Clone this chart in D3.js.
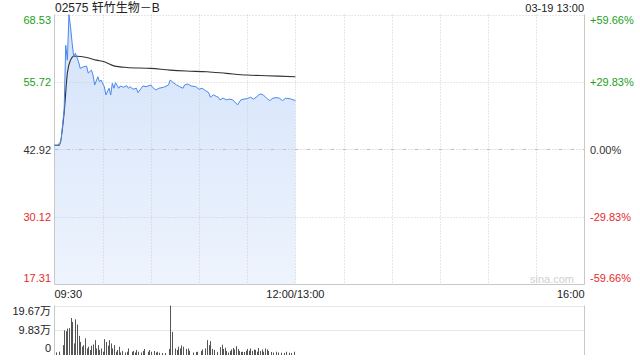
<!DOCTYPE html>
<html>
<head>
<meta charset="utf-8">
<script src="https://cdn.jsdelivr.net/npm/d3@7"></script>
<style>
  html, body { margin: 0; padding: 0; background: #fff; }
  svg { display: block; font-family: Arial, "Liberation Sans", "Noto Sans CJK SC", sans-serif; }
</style>
</head>
<body>
<div id="chart"></div>
<script>
// Chart data (minutes after 09:30)
const title = "02575 轩竹生物－B";
const stamp = "03-19 13:00";
const prevClose = 42.92;
const priceTicks = [68.53, 55.72, 42.92, 30.12, 17.31];
const pctTicks = ["+59.66%", "+29.83%", "0.00%", "-29.83%", "-59.66%"];
const volTicks = [19.67, 9.83, 0];
const volTickLabels = ["19.67万", "9.83万", "0"];
const timeLabels = ["09:30", "12:00/13:00", "16:00"];

const priceMin = [0, 2, 4, 6, 7, 8, 9, 10, 11, 12, 13, 15, 16, 18, 20, 21, 23, 24, 25, 27, 28, 29, 31, 32, 34, 35, 36, 37, 38, 40, 41, 43, 45, 46, 47, 49, 51, 52, 54, 55, 57, 60, 61, 63, 65, 68, 71, 72, 74, 76, 78, 80, 81, 83, 85, 88, 90, 92, 94, 96, 97, 99, 101, 102, 103, 105, 107, 109, 111, 114, 116, 118, 120, 122, 124, 126, 128, 130, 132, 134, 136, 138, 140, 142, 144, 147, 150];
const price = [43.73, 43.73, 44.48, 50.45, 62.69, 59.87, 68.5, 66.14, 63.07, 60.49, 61.19, 59.55, 58.31, 58.61, 58.74, 57.42, 57.98, 57.04, 55.16, 56.72, 55.78, 56.10, 54.84, 53.28, 54.54, 53.28, 55.48, 54.54, 55.59, 54.54, 54.97, 54.73, 55.03, 54.54, 54.84, 54.35, 54.54, 53.71, 54.54, 54.97, 54.84, 55.16, 54.73, 54.22, 54.54, 54.73, 55.16, 56.10, 55.59, 55.16, 54.84, 54.54, 55.16, 55.35, 54.97, 54.84, 54.35, 54.54, 54.09, 53.71, 52.84, 53.28, 52.96, 52.84, 52.34, 52.66, 52.34, 52.47, 52.34, 51.39, 52.34, 52.47, 52.58, 52.84, 52.47, 52.96, 53.47, 53.28, 52.66, 52.20, 52.66, 52.77, 52.66, 52.20, 52.66, 52.52, 52.20];

const avgMin = [0, 3, 6, 8, 10, 12, 14, 20, 26, 31, 37, 45, 60, 72, 82, 95, 107, 120, 132, 150];
const avgPrice = [43.73, 43.73, 49.89, 57.42, 59.87, 60.62, 60.62, 60.38, 59.87, 59.55, 58.79, 58.49, 58.31, 57.98, 57.80, 57.66, 57.36, 57.04, 56.91, 56.72];

const volMin = [1, 3, 5, 6, 7, 8, 9, 10, 11, 12, 13, 14, 15, 16, 17, 18, 19, 20, 21, 22, 23, 24, 25, 26, 27, 28, 29, 30, 31, 32, 33, 34, 35, 36, 37, 38, 39, 40, 41, 42, 44, 45, 46, 48, 49, 50, 51, 52, 54, 55, 56, 58, 59, 60, 62, 63, 64, 65, 67, 69, 71, 72, 73, 75, 76, 77, 78, 79, 80, 82, 83, 84, 86, 88, 89, 91, 92, 94, 95, 96, 97, 98, 99, 101, 103, 104, 105, 106, 107, 108, 109, 110, 111, 112, 113, 114, 115, 116, 117, 118, 119, 120, 121, 122, 123, 124, 125, 126, 127, 128, 129, 130, 131, 132, 133, 135, 136, 138, 139, 141, 143, 144, 146, 147, 149];
const volume = [1.06, 1.3, 3.93, 9.83, 9.44, 10.5, 10.7, 14.7, 13.1, 4.6, 14.2, 12.1, 7.6, 5.2, 3.3, 3.9, 6.6, 2.6, 3.3, 2.0, 3.7, 4.2, 5.9, 2.6, 3.9, 2.0, 2.6, 1.3, 6.3, 5.2, 3.7, 5.9, 4.6, 2.6, 3.9, 1.3, 2.0, 3.3, 1.0, 1.6, 1.0, 1.3, 2.6, 1.3, 1.6, 1.0, 2.0, 1.3, 1.0, 1.6, 2.4, 1.3, 2.0, 1.3, 1.6, 1.0, 1.3, 0.9, 0.8, 0.8, 2.4, 19.6, 9.2, 2.6, 2.0, 3.3, 2.6, 3.8, 3.3, 2.4, 2.6, 1.7, 1.0, 1.2, 1.3, 1.6, 2.2, 2.6, 5.9, 3.9, 5.5, 2.4, 2.0, 1.2, 3.1, 4.1, 2.4, 2.9, 1.6, 1.0, 1.6, 2.2, 2.8, 2.2, 3.5, 2.4, 1.6, 1.2, 1.3, 1.2, 1.7, 2.4, 1.7, 2.6, 1.6, 2.2, 2.0, 1.3, 2.8, 1.6, 2.2, 1.3, 2.6, 2.2, 1.6, 1.2, 1.0, 1.3, 1.0, 0.9, 0.8, 1.3, 0.9, 0.8, 1.3];

const width = 640, height = 360;
const plot = { left: 54.5, right: 584.5, top: 14.5, bottom: 284.5 };
const vol = { top: 305.5, bottom: 355 };

const green = "#21a121", red = "#e52b2b", grid = "#cfcfcf";

const svg = d3.select("#chart").append("svg")
  .attr("width", width).attr("height", height);

const x = d3.scaleLinear().domain([0, 330]).range([plot.left, plot.right]);
const y = d3.scaleLinear().domain([priceTicks[4], priceTicks[0]]).range([plot.bottom, plot.top]);
const yv = d3.scaleLinear().domain([0, volTicks[0]]).range([vol.bottom, vol.top]);

// area fill under price (drawn first, grid sits on top)
const defs = svg.append("defs");
const grad = defs.append("linearGradient").attr("id", "fillGrad")
  .attr("x1", 0).attr("y1", 0).attr("x2", 0).attr("y2", 1);
grad.append("stop").attr("offset", "0%").attr("stop-color", "#d3e2fa");
grad.append("stop").attr("offset", "100%").attr("stop-color", "#eef4fd");

const pts = priceMin.map((m, i) => [m, price[i]]);
svg.append("path").datum(pts)
  .attr("fill", "url(#fillGrad)")
  .attr("d", d3.area().x(d => x(d[0])).y0(plot.bottom).y1(d => y(d[1])));

// vertical gridlines every 30 minutes
const xGrid = d3.range(30, 330, 30);
svg.append("g").selectAll("line").data(xGrid).join("line")
  .attr("x1", d => Math.round(x(d)) + 0.5).attr("x2", d => Math.round(x(d)) + 0.5)
  .attr("y1", plot.top).attr("y2", plot.bottom)
  .attr("stroke", grid).attr("stroke-dasharray", "1,2");

// horizontal gridlines
svg.append("g").selectAll("line").data(priceTicks.slice(0, 4)).join("line")
  .attr("x1", plot.left).attr("x2", plot.right)
  .attr("y1", d => Math.round(y(d)) + 0.5).attr("y2", d => Math.round(y(d)) + 0.5)
  .attr("stroke", d => d === prevClose ? "#c0c0c0" : grid)
  .attr("stroke-dasharray", d => d === prevClose ? "4,2,1,2,1,2" : "1,2");

// borders
svg.append("path")
  .attr("d", `M${plot.left},${plot.top}V${plot.bottom}H${plot.right}V${plot.top}`)
  .attr("fill", "none").attr("stroke", "#c8c8c8");

// average line and price line
svg.append("path").datum(avgMin.map((m, i) => [m, avgPrice[i]]))
  .attr("fill", "none").attr("stroke", "#333").attr("stroke-width", 1.1)
  .attr("d", d3.line().x(d => x(d[0])).y(d => y(d[1])).curve(d3.curveMonotoneX));

svg.append("path").datum(pts)
  .attr("fill", "none").attr("stroke", "#4a88ee").attr("stroke-width", 1)
  .attr("d", d3.line().x(d => x(d[0])).y(d => y(d[1])));

// left price labels
const lblY = [20, 82, 150, 217, 278];
svg.append("g").selectAll("text").data(priceTicks).join("text")
  .attr("x", 51).attr("y", (d, i) => lblY[i]).attr("dy", "0.35em")
  .attr("text-anchor", "end").attr("font-size", 11)
  .attr("fill", d => d > prevClose ? green : d < prevClose ? red : "#333")
  .text(d => d.toFixed(2));

// right percent labels
svg.append("g").selectAll("text").data(pctTicks).join("text")
  .attr("x", 590).attr("y", (d, i) => lblY[i]).attr("dy", "0.35em")
  .attr("font-size", 11)
  .attr("fill", (d, i) => i < 2 ? green : i > 2 ? red : "#333")
  .text(d => d);

// title and stamp
svg.append("text").attr("x", 55).attr("y", 12).attr("font-size", 12)
  .attr("fill", "#222").text(title);
svg.append("text").attr("x", 584).attr("y", 12).attr("font-size", 11)
  .attr("text-anchor", "end").attr("fill", "#222").text(stamp);

// watermark
svg.append("text").attr("x", 574).attr("y", 283).attr("font-size", 11)
  .attr("text-anchor", "end").attr("fill", "#d0d0d0").text("sina.com");

// time labels
const tPos = [[0, "start"], [150, "middle"], [330, "end"]];
svg.append("g").selectAll("text").data(timeLabels).join("text")
  .attr("x", (d, i) => x(tPos[i][0])).attr("y", 298)
  .attr("text-anchor", (d, i) => tPos[i][1])
  .attr("font-size", 11).attr("fill", "#222").text(d => d);

// volume panel
svg.append("g").selectAll("line").data(volTicks.slice(0, 2)).join("line")
  .attr("x1", plot.left).attr("x2", plot.right)
  .attr("y1", d => Math.round(yv(d)) + 0.5).attr("y2", d => Math.round(yv(d)) + 0.5)
  .attr("stroke", grid).attr("stroke-dasharray", "1,1");
svg.append("path")
  .attr("d", `M${plot.left},${vol.top}V${vol.bottom}M${plot.right},${vol.top}V${vol.bottom}`)
  .attr("fill", "none").attr("stroke", "#c8c8c8");

svg.append("g").selectAll("rect").data(volMin.map((m, i) => [m, volume[i]])).join("rect")
  .attr("x", d => Math.round(x(d[0])))
  .attr("width", 1)
  .attr("y", d => yv(d[1]))
  .attr("height", d => vol.bottom - yv(d[1]))
  .attr("fill", "#555");

const vLblY = [311.5, 330, 348];
svg.append("g").selectAll("text").data(volTickLabels).join("text")
  .attr("x", 51).attr("y", (d, i) => vLblY[i]).attr("dy", "0.35em")
  .attr("text-anchor", "end").attr("font-size", 11).attr("fill", "#222")
  .text(d => d);
</script>
</body>
</html>
